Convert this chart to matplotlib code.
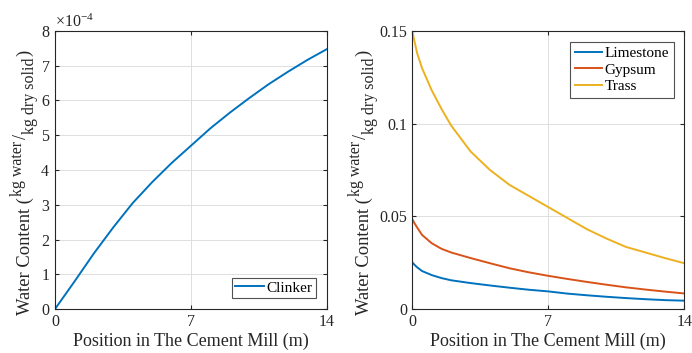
import matplotlib.pyplot as plt
import matplotlib.ticker as mticker
import matplotlib.transforms as mtrans

plt.rcParams['font.family'] = ['Liberation Serif', 'DejaVu Serif']
plt.rcParams['mathtext.fontset'] = 'custom'
plt.rcParams['mathtext.rm'] = 'Liberation Serif'

# --- data ---
x_clinker = [0, 1, 2, 3, 4, 5, 6, 7, 8, 9, 10, 11, 12, 13, 14]
clinker = [0, 0.79, 1.6, 2.35, 3.05, 3.65, 4.2, 4.7, 5.2, 5.65, 6.07, 6.47, 6.83, 7.17, 7.48]
clinker = [v * 1e-4 for v in clinker]

x_pos = [0, 0.1, 0.25, 0.5, 1, 1.5, 2, 3, 4, 5, 6, 7, 8, 9, 10, 11, 12, 13, 14]
limestone = [0.0252, 0.0240, 0.0225, 0.0205, 0.0183, 0.0167, 0.0155, 0.0140, 0.0127, 0.0115,
             0.0104, 0.0095, 0.0083, 0.0074, 0.0066, 0.0059, 0.0053, 0.0048, 0.0045]
gypsum = [0.0485, 0.0465, 0.0440, 0.0400, 0.0355, 0.0325, 0.0305, 0.0275, 0.0247, 0.0220,
          0.0198, 0.0179, 0.0162, 0.0146, 0.0131, 0.0117, 0.0105, 0.0094, 0.0084]
trass = [0.150, 0.145, 0.138, 0.130, 0.118, 0.108, 0.099, 0.085, 0.075, 0.067,
         0.061, 0.055, 0.049, 0.043, 0.038, 0.0335, 0.0305, 0.0275, 0.0247]

x_ticks = [0, 7, 14]
right_yticks = [0, 0.05, 0.1, 0.15]
right_ylabels = ['0', '0.05', '0.1', '0.15']

blue, red, yellow = '#0072BD', '#D95319', '#EDB120'
axis_col = '#262626'
xlabel = 'Position in The Cement Mill (m)'

W, H = 692, 353
fig = plt.figure(figsize=(W / 100, H / 100), dpi=100)
ax1 = fig.add_axes([0.0795, 0.1246, 0.393, 0.7876])
ax2 = fig.add_axes([0.5958, 0.1246, 0.393, 0.7876])


def style(ax):
    # MATLAB-like look
    ax.tick_params(direction='in', length=3, labelsize=11.5, colors=axis_col,
                   top=True, right=True, labeltop=False, labelright=False)
    for s in ax.spines.values():
        s.set_color(axis_col)
        s.set_linewidth(0.8)
    ax.grid(True, color='#dedede', linewidth=0.7)
    ax.set_axisbelow(True)
    ax.set_xlim(0, 14)
    ax.set_xticks(x_ticks)
    ax.set_xlabel(xlabel, fontsize=13, color=axis_col, labelpad=2)


def water_label(x_base, y_start):
    # y label built from pieces: "Water Content (" + sup / sub + ")"
    # (x_base, y_start) in pixels, y measured from the top of the image
    renderer = fig.canvas.get_renderer()
    tr = mtrans.IdentityTransform()
    pieces = [('Water Content (', 13.3, 0, 1),
              ('kg water', 11.5, -8, 2),
              ('/', 13, -3, 0),
              ('kg dry solid', 11.5, 5, 1),
              (')', 13.3, 0, 0)]
    y = H - y_start
    for txt, size, dx, gap in pieces:
        t = fig.text(x_base + dx, y, txt, rotation=90, rotation_mode='anchor',
                     ha='left', va='baseline', fontsize=size, color=axis_col,
                     transform=tr)
        bb = t.get_window_extent(renderer)
        y = bb.y1 + gap


ax1.plot(x_clinker, clinker, color=blue, lw=1.4, label='Clinker')
ax1.set_ylim(0, 8e-4)
fmt = mticker.ScalarFormatter(useMathText=True)
fmt.set_powerlimits((-3, 3))
ax1.yaxis.set_major_formatter(fmt)
style(ax1)
ax1.yaxis.get_offset_text().set_fontsize(11.5)
ax1.yaxis.get_offset_text().set_color(axis_col)
leg1 = ax1.legend(loc='lower right', fontsize=11, fancybox=False, edgecolor=axis_col,
                  handlelength=1.9, handletextpad=0.15, borderpad=0.2, borderaxespad=0.75)
leg1.get_frame().set_linewidth(0.8)

ax2.plot(x_pos, limestone, color=blue, lw=1.4, label='Limestone')
ax2.plot(x_pos, gypsum, color=red, lw=1.4, label='Gypsum')
ax2.plot(x_pos, trass, color=yellow, lw=1.4, label='Trass')
ax2.set_ylim(0, 0.15)
ax2.set_yticks(right_yticks)
ax2.set_yticklabels(right_ylabels)
style(ax2)
leg2 = ax2.legend(loc='upper right', fontsize=11, fancybox=False, edgecolor=axis_col,
                  handlelength=1.8, handletextpad=0.15, borderpad=0.3, labelspacing=0.2,
                  borderaxespad=0.7)
leg2.get_frame().set_linewidth(0.8)

water_label(29.5, 315)
water_label(368.5, 315)

fig.savefig('out.png', dpi=100)
